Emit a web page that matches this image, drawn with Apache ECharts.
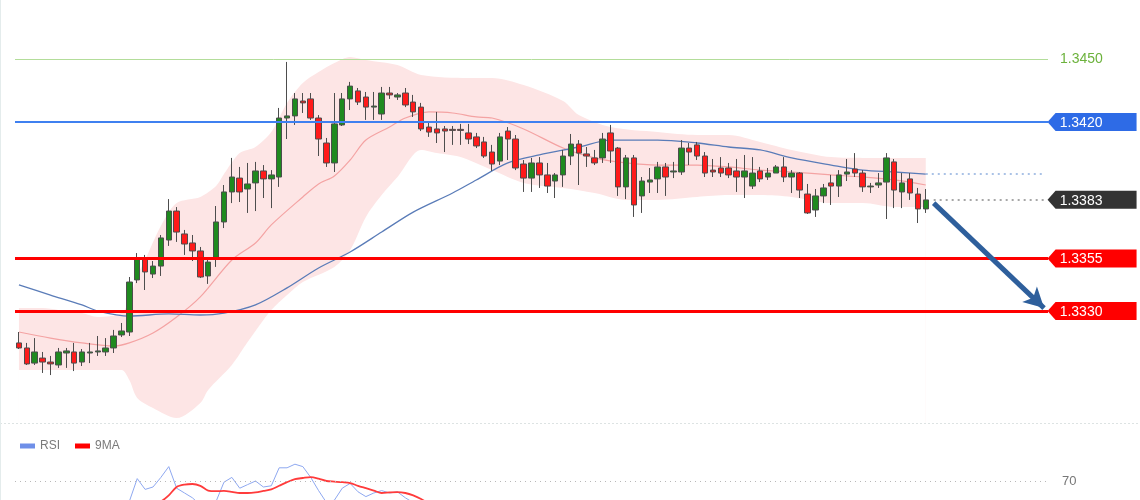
<!DOCTYPE html>
<html>
<head>
<meta charset="utf-8">
<script src="https://cdn.jsdelivr.net/npm/echarts@6/dist/echarts.min.js"></script>
<style>
html,body{margin:0;padding:0;background:#ffffff;}
#chart{width:1140px;height:500px;}
</style>
</head>
<body>
<div id="chart"></div>
<script>
// ---------- DATA ----------
// 131 category slots; the last 15 are empty space to the right of the candles
const categories = Array.from({length: 131}, (_, i) => String(i + 1));

// candles: [open, close, low, high]
const candles = [
[1.33148,1.33124,1.33119,1.33200],[1.33124,1.33048,1.33043,1.33148],[1.33052,1.33105,1.33043,1.33171],[1.33076,1.33057,1.33005,1.33105],
[1.33057,1.33048,1.32995,1.33086],[1.33043,1.33105,1.33029,1.33124],[1.33100,1.33110,1.33029,1.33124],[1.33105,1.33052,1.33014,1.33148],
[1.33057,1.33105,1.33038,1.33119],[1.33100,1.33105,1.33052,1.33148],[1.33105,1.33110,1.33086,1.33181],[1.33105,1.33124,1.33086,1.33171],
[1.33124,1.33181,1.33100,1.33210],[1.33186,1.33205,1.33176,1.33243],[1.33200,1.33438,1.33181,1.33462],[1.33448,1.33548,1.33433,1.33576],
[1.33552,1.33486,1.33400,1.33567],[1.33476,1.33514,1.33457,1.33538],[1.33514,1.33648,1.33467,1.33662],[1.33638,1.33776,1.33610,1.33833],
[1.33776,1.33676,1.33629,1.33795],[1.33667,1.33619,1.33567,1.33686],[1.33624,1.33586,1.33538,1.33662],[1.33586,1.33462,1.33457,1.33605],
[1.33467,1.33533,1.33429,1.33557],[1.33548,1.33724,1.33510,1.33800],[1.33724,1.33867,1.33695,1.33900],[1.33867,1.33938,1.33814,1.34029],
[1.33933,1.33867,1.33819,1.33986],[1.33881,1.33905,1.33767,1.34005],[1.33910,1.33967,1.33776,1.34010],[1.33967,1.33929,1.33838,1.33995],
[1.33929,1.33948,1.33790,1.33971],[1.33938,1.34219,1.33891,1.34267],[1.34219,1.34229,1.34119,1.34486],[1.34229,1.34310,1.34186,1.34338],
[1.34300,1.34291,1.34243,1.34338],[1.34310,1.34219,1.34210,1.34338],[1.34219,1.34119,1.34038,1.34233],[1.34100,1.34005,1.33986,1.34124],
[1.34005,1.34191,1.33962,1.34338],[1.34186,1.34310,1.34181,1.34338],[1.34310,1.34371,1.34257,1.34391],[1.34348,1.34295,1.34281,1.34362],
[1.34319,1.34271,1.34210,1.34343],[1.34271,1.34276,1.34210,1.34343],[1.34238,1.34338,1.34210,1.34367],[1.34338,1.34329,1.34310,1.34367],
[1.34319,1.34329,1.34305,1.34338],[1.34338,1.34281,1.34271,1.34362],[1.34295,1.34248,1.34224,1.34329],[1.34271,1.34167,1.34157,1.34291],
[1.34176,1.34152,1.34129,1.34200],[1.34167,1.34148,1.34100,1.34248],[1.34167,1.34157,1.34057,1.34181],[1.34165,1.34160,1.34091,1.34181],
[1.34165,1.34160,1.34091,1.34191],[1.34148,1.34119,1.34095,1.34191],[1.34129,1.34086,1.34076,1.34148],[1.34105,1.34038,1.34029,1.34129],
[1.34057,1.34000,1.33967,1.34091],[1.34014,1.34129,1.33995,1.34148],[1.34157,1.34119,1.34019,1.34176],[1.34119,1.33981,1.33971,1.34138],
[1.34000,1.33933,1.33867,1.34019],[1.33933,1.34005,1.33867,1.34029],[1.34005,1.33948,1.33886,1.34033],[1.33948,1.33895,1.33862,1.34005],
[1.33919,1.33948,1.33838,1.33957],[1.33948,1.34038,1.33891,1.34067],[1.34038,1.34095,1.33995,1.34143],[1.34095,1.34052,1.33900,1.34114],
[1.34048,1.34038,1.33986,1.34081],[1.34029,1.34005,1.33995,1.34067],[1.34029,1.34119,1.34005,1.34148],[1.34148,1.34062,1.34005,1.34186],
[1.34076,1.33891,1.33848,1.34081],[1.33891,1.34029,1.33833,1.34043],[1.34029,1.33805,1.33748,1.34043],[1.33848,1.33919,1.33767,1.33938],
[1.33914,1.33924,1.33862,1.33981],[1.33929,1.33986,1.33862,1.34010],[1.33986,1.33938,1.33848,1.34005],[1.33962,1.33967,1.33933,1.34010],
[1.33962,1.34076,1.33948,1.34114],[1.34076,1.34057,1.33995,1.34100],[1.34091,1.34038,1.34019,1.34105],[1.34038,1.33957,1.33938,1.34057],
[1.33971,1.33962,1.33938,1.34024],[1.33981,1.33957,1.33938,1.34033],[1.33981,1.33948,1.33933,1.34005],[1.33967,1.33938,1.33867,1.34024],
[1.33938,1.33967,1.33838,1.34043],[1.33895,1.33957,1.33881,1.34033],[1.33967,1.33929,1.33914,1.33986],[1.33938,1.33957,1.33924,1.33981],
[1.33957,1.33986,1.33957,1.33995],[1.33986,1.33938,1.33914,1.34033],[1.33938,1.33957,1.33862,1.33971],[1.33957,1.33876,1.33838,1.33962],
[1.33857,1.33767,1.33762,1.33905],[1.33781,1.33848,1.33748,1.33881],[1.33848,1.33886,1.33814,1.33905],[1.33910,1.33895,1.33805,1.33948],
[1.33895,1.33948,1.33843,1.33971],[1.33952,1.33962,1.33919,1.34024],[1.33976,1.33957,1.33938,1.34052],[1.33957,1.33891,1.33867,1.33971],
[1.33891,1.33895,1.33862,1.33910],[1.33900,1.33910,1.33886,1.33957],[1.33914,1.34029,1.33738,1.34052],[1.34010,1.33876,1.33790,1.34024],
[1.33867,1.33910,1.33790,1.33957],[1.33929,1.33862,1.33829,1.33957],[1.33857,1.33786,1.33719,1.33886],[1.33786,1.33829,1.33767,1.33881]
];

// Bollinger upper / lower / middle and long MA, read at sample candles: [candleIndex, value]
const bbUpper = [[0,1.33314],[3,1.33314],[5,1.33305],[8,1.33290],[10,1.33271],[13,1.33290],[14,1.33352],[15,1.33467],[16,1.33543],[18,1.33705],
[20,1.33814],[23,1.33843],[25,1.33895],[26,1.33952],[28,1.34052],[30,1.34081],[32,1.34152],[34,1.34291],[36,1.34386],[38,1.34438],[40,1.34481],
[42,1.34510],[44,1.34495],[48,1.34471],[51,1.34424],[57,1.34410],[60,1.34410],[64,1.34376],[69,1.34300],[71,1.34233],[75,1.34176],[81,1.34152],
[86,1.34138],[90,1.34138],[94,1.34105],[98,1.34067],[103,1.34033],[107,1.34029],[111,1.34029],[115,1.34029]];
const bbLower = [[0,1.33019],[5,1.33019],[10,1.33019],[13,1.33019],[14,1.32971],[15,1.32886],[17,1.32838],[20,1.32790],[23,1.32862],[24,1.32924],
[27,1.33043],[29,1.33152],[31,1.33257],[32,1.33305],[34,1.33376],[36,1.33438],[40,1.33510],[42,1.33590],[44,1.33748],[46,1.33852],[48,1.33938],
[51,1.34067],[53,1.34052],[56,1.34033],[60,1.33971],[64,1.33910],[69,1.33886],[73,1.33862],[77,1.33829],[81,1.33829],[86,1.33843],[90,1.33852],
[94,1.33852],[98,1.33843],[103,1.33814],[107,1.33814],[111,1.33795],[115,1.33795]];
const bbMiddle = [[0,1.33200],[4,1.33171],[8,1.33148],[12,1.33133],[14,1.33148],[17,1.33195],[20,1.33271],[23,1.33367],[27,1.33543],[30,1.33624],
[32,1.33710],[36,1.33843],[38,1.33905],[40,1.33943],[42,1.34019],[44,1.34114],[47,1.34176],[49,1.34219],[52,1.34248],[55,1.34243],[58,1.34224],
[60,1.34219],[64,1.34167],[69,1.34076],[73,1.34029],[77,1.34005],[81,1.33995],[86,1.33995],[90,1.33986],[94,1.33971],[98,1.33962],[103,1.33948],
[107,1.33938],[111,1.33924],[115,1.33900]];
const longMA = [[0,1.33424],[4,1.33376],[8,1.33329],[10,1.33300],[14,1.33276],[19,1.33286],[23,1.33281],[26,1.33290],[30,1.33329],[34,1.33410],
[38,1.33505],[42,1.33581],[46,1.33676],[50,1.33771],[55,1.33862],[58,1.33924],[62,1.34005],[66,1.34043],[71,1.34081],[75,1.34114],[81,1.34114],
[86,1.34100],[90,1.34081],[94,1.34067],[98,1.34029],[103,1.33995],[107,1.33971],[111,1.33962],[115,1.33952]];

// horizontal levels and their tags
const resistance2 = 1.3450;
const resistance1 = 1.3420;
const lastPrice = 1.3383;
const support1 = 1.3355;
const support2 = 1.3330;
// forecast arrow: [candleIndex, price] start and end
const arrowStart = [116, 1.33814];
const arrowEnd = [130, 1.33314];

// RSI panel
const rsi = [40,35,38,36,34,38,39,37,40,41,42,44,47,50,
53,72,63,65,73,82,64,60,56,50,46,53,69,73,64,67,70,65,66,81,81,84,82,73,62,52,54,64,68,61,57,60,62,60,61,56,52,47,42,40,
40,41,41,40,38,36,33,40,38,32,30,35,33,30,36,42,47,45,42,44,50,44,36,40,36,42,41,44,43,46,45,48,46,44,40,42,43,41,38,40,
42,41,44,45,42,40,42,39,33,36,38,37,40,43,44,42,40,41,43,49,45,47];
const rsiMA = [45,44,43,42,41,40,39,39,39,40,40,41,42,43,45,48,50,52,
53,58,65,67,67.5,66,62,61.5,61.7,61,60,60,60.5,61.7,63,66,69,71.5,72.5,73.3,72,70,69.5,69,68.3,66,64,62,60,60.5,60.8,60,58,55,51,
48,46,45,44,43,42,41,40,39,38,37,36,35,35,35,36,37,38,39,40,41,42,42,41,41,41,41,42,42,43,43,44,44,44,43,43,42,42,42,42,
42,42,42,42,42,42,41,41,40,40,40,40,39,39,40,41,42,42,43,43,43,44,44];
const rsiLevel = 70;

// ---------- CHART ----------
const chart = echarts.init(document.getElementById('chart'), null, {renderer: 'canvas'});
const lastCat = categories[categories.length - 1];
const tagPath = 'path://M0,9 L8,0 L89,0 L89,18 L8,18 Z';
function tag(value, color) {
  return {
    coord: [lastCat, value],
    symbol: tagPath,
    symbolSize: [89, 18],
    symbolKeepAspect: false,
    symbolOffset: [48, 0],
    itemStyle: {color: color},
    label: {show: true, position: 'inside', offset: [-11, 1], formatter: value.toFixed(4),
            color: '#ffffff', fontSize: 14, fontFamily: 'Liberation Sans, Arial, sans-serif'}
  };
}

const option = {
  animation: false,
  backgroundColor: '#ffffff',
  textStyle: {fontFamily: 'Liberation Sans, Arial, sans-serif'},
  legend: {
    data: ['RSI', '9MA'], left: 15, top: 435, icon: 'rect', itemWidth: 15, itemHeight: 5, itemGap: 15,
    textStyle: {color: '#7a7a7a', fontSize: 12}
  },
  graphic: [
    {type: 'line', shape: {x1: 0, y1: 423.5, x2: 1140, y2: 423.5}, style: {stroke: '#dde3e3', lineWidth: 1, lineDash: [2, 2]}, silent: true},
    {type: 'line', shape: {x1: 0.5, y1: 0, x2: 0.5, y2: 500}, style: {stroke: '#e4ecec', lineWidth: 1}, silent: true}
  ],
  grid: [
    {left: 15, right: 92, top: 0, bottom: 77},
    {left: 15, right: 92, top: 445, bottom: 0}
  ],
  xAxis: [
    {type: 'category', data: categories, gridIndex: 0, show: false, boundaryGap: true},
    {type: 'category', data: categories, gridIndex: 1, show: false, boundaryGap: true}
  ],
  yAxis: [
    {type: 'value', gridIndex: 0, min: 1.327667, max: 1.34781, show: false, scale: true},
    // panel shows RSI from 100 at its top down to about 54 at the window's bottom edge
    {type: 'value', gridIndex: 1, min: 54.1667, max: 100, show: false, scale: true}
  ],
  series: [
    {name: 'BB upper', type: 'line', data: bbUpper, smooth: 0.3, symbol: 'none', silent: true, z: 1,
     lineStyle: {width: 0},
     areaStyle: {color: '#fde5e5', opacity: 1, origin: 'start',
       decal: {symbol: 'rect', symbolSize: 1, color: 'rgba(238,160,160,0.45)', dashArrayX: [1, 5], dashArrayY: [1, 5], rotation: -0.3}}},
    {name: 'BB lower', type: 'line', data: bbLower, smooth: 0.3, symbol: 'none', silent: true, z: 2,
     lineStyle: {width: 0}, areaStyle: {color: '#ffffff', opacity: 1, origin: 'start'}},
    {name: 'BB middle', type: 'line', data: bbMiddle, smooth: 0.3, symbol: 'none', silent: true, z: 3,
     lineStyle: {width: 1.2, color: '#f4a3a3'}},
    {name: 'MA', type: 'line', data: longMA, smooth: 0.3, symbol: 'none', silent: true, z: 3,
     lineStyle: {width: 1.3, color: '#5a7cb8'},
     markLine: {
       silent: true, symbol: 'none', animation: false, z: 10, precision: 5,
       label: {show: false},
       data: [
         {yAxis: resistance2, lineStyle: {color: '#b3dd9a', width: 1, type: 'solid'},
          label: {show: true, position: 'end', distance: 12, formatter: resistance2.toFixed(4), color: '#6cb23c', fontSize: 14}},
         {yAxis: resistance1, lineStyle: {color: '#3f80f0', width: 2, type: 'solid'}},
         {yAxis: support1, lineStyle: {color: '#ff0000', width: 3, type: 'solid'}},
         {yAxis: support2, lineStyle: {color: '#ff0000', width: 3, type: 'solid'}}
       ]
     }},
    {name: 'Price', type: 'candlestick', data: candles, z: 5, barWidth: 6, silent: true,
     itemStyle: {color: '#1f8a1f', color0: '#ff1a1a', borderColor: '#4d4d4d', borderColor0: '#4d4d4d', borderWidth: 1},
     markLine: {
       silent: true, symbol: 'none', animation: false, z: 10, precision: 5,
       label: {show: false},
       data: [
         [{coord: [categories[115], longMA[longMA.length - 1][1]], lineStyle: {color: '#8eaede', width: 1.5, type: [2, 4]}},
          {coord: [lastCat, longMA[longMA.length - 1][1]]}],
         [{coord: [categories[116], lastPrice], lineStyle: {color: '#8a8a8a', width: 1.5, type: [2, 4]}},
          {coord: [lastCat, lastPrice]}],
         [{coord: [categories[arrowStart[0]], arrowStart[1]], lineStyle: {color: '#2e5f9c', width: 5, type: 'solid'}, symbol: 'none'},
          {coord: [categories[arrowEnd[0]], arrowEnd[1]], symbol: 'arrow', symbolSize: [16, 20]}]
       ]
     },
     markPoint: {
       silent: true, animation: false, z: 10,
       data: [tag(resistance1, '#2e6be6'), tag(lastPrice, '#333333'), tag(support1, '#ff0000'), tag(support2, '#ff0000')]
     }
    },
    {name: 'RSI', type: 'line', xAxisIndex: 1, yAxisIndex: 1, data: rsi, symbol: 'none', silent: true,
     itemStyle: {color: '#6f8fe8'}, lineStyle: {width: 1, color: '#8ea8f0'},
     markLine: {silent: true, symbol: 'none', animation: false,
       data: [{yAxis: rsiLevel, lineStyle: {color: '#b8b8b8', width: 1, type: [1, 4]},
               label: {show: true, position: 'end', distance: 14, formatter: String(rsiLevel), color: '#777777', fontSize: 13}}]}
    },
    {name: '9MA', type: 'line', xAxisIndex: 1, yAxisIndex: 1, data: rsiMA, smooth: 0.3, symbol: 'none', silent: true,
     itemStyle: {color: '#ff0000'}, lineStyle: {width: 1.8, color: '#ff3b3b'}}
  ]
};
chart.setOption(option);
</script>
</body>
</html>
